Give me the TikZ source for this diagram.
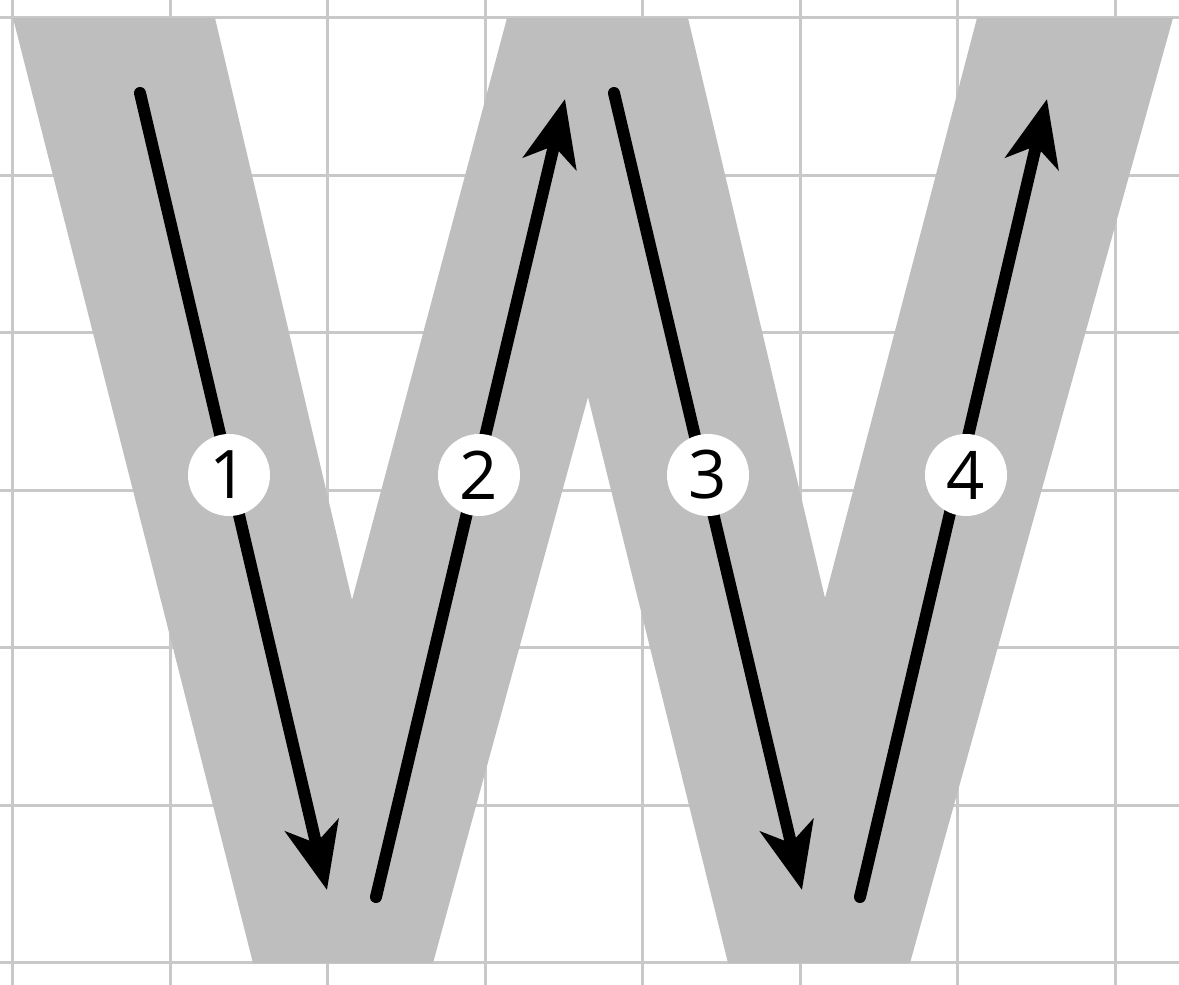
\documentclass[tikz,border=0pt]{standalone}
\usepackage{fontspec}
\setmainfont{Open Sans}
\usetikzlibrary{arrows.meta}
\definecolor{gridgray}{RGB}{200,200,200}
\definecolor{wgray}{RGB}{190,190,190}
\tikzset{
  gridline/.style={draw=gridgray, line width=3pt},
  stroke/.style={line width=12pt, line cap=round, -{Stealth[length=66pt,width=54pt,inset=18pt]}},
  num/.style={circle, fill=white, minimum size=82pt, inner sep=0pt, font=\fontsize{67}{67}\selectfont}
}
\begin{document}
\begin{tikzpicture}[x=1pt,y=-1pt]
\useasboundingbox (0,0) rectangle (1179,985);
\fill[white] (0,0) rectangle (1179,985);
% grid
\foreach \x in {12.5,170,327.5,485,642.5,800,957.5,1115}
  \draw[gridline] (\x,0) -- (\x,985);
\foreach \y in {17.5,175,332.5,490,647.5,805,962.5}
  \draw[gridline] (0,\y) -- (1179,\y);
% W shape
\fill[wgray] (13,18) -- (215,18) -- (352,600) -- (507,18) -- (688,18)
  -- (825,598) -- (977,18) -- (1173,18) -- (910,963) -- (728,963)
  -- (588,397) -- (433,963) -- (253,963) -- cycle;
% endpoints
\coordinate (s1) at (140,93);  \coordinate (e1) at (327,890);
\coordinate (s2) at (376,897); \coordinate (e2) at (565,99);
\coordinate (s3) at (614,93);  \coordinate (e3) at (802,890);
\coordinate (s4) at (860,897); \coordinate (e4) at (1047,99);
\draw[stroke] (s1) -- (e1);
\draw[stroke] (s2) -- (e2);
\draw[stroke] (s3) -- (e3);
\draw[stroke] (s4) -- (e4);
% numbers
\node[num] (n1) at (229,475) {1};
\node[num] (n2) at (479,475) {2};
\node[num] (n3) at (708,475) {3};
\node[num] (n4) at (966,475) {4};
\end{tikzpicture}
\end{document}
